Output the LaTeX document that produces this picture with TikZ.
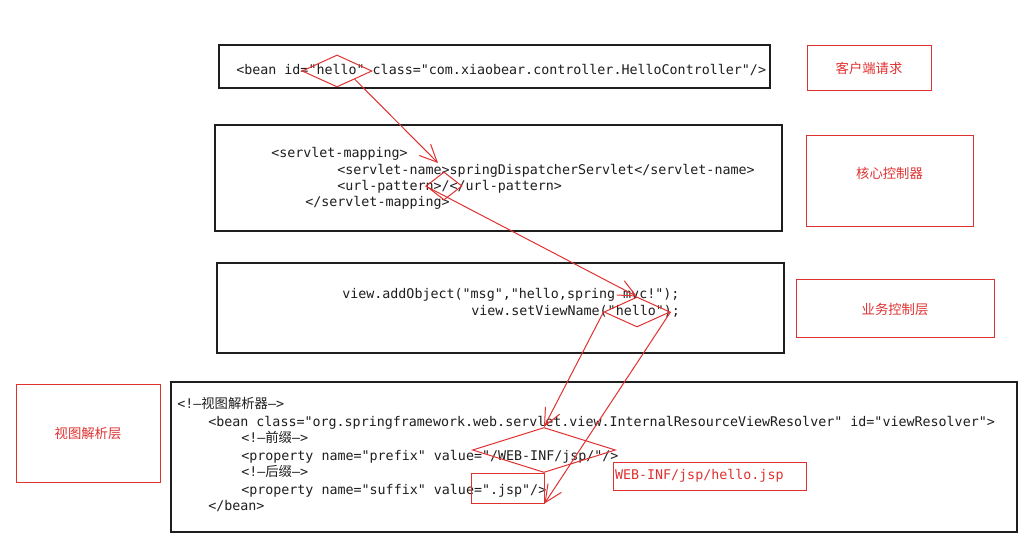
\documentclass[tikz,border=0pt]{standalone}
\usepackage{fontspec}
\setmonofont{DejaVu Sans Mono}
\newfontfamily\cjk{Noto Sans CJK SC}
\usepackage{xcolor}
\usetikzlibrary{shapes.geometric, arrows.meta}
\definecolor{rosso}{HTML}{E03131}
\definecolor{nero}{HTML}{1E1E1E}
\newcommand{\pxl}{0.75pt}

\begin{document}
\begin{tikzpicture}[x = 0.75pt, y = -0.75pt,
    riquadro/.style = {draw = nero, line width = 1pt, fill = white, inner sep = 0pt},
    riquadroRosso/.style = {draw = rosso, line width = 0.75pt, inner sep = 0pt, text = rosso, font = \cjk},
    rombo/.style = {draw = rosso, line width = 0.75pt, diamond, inner sep = 0pt},
    cornice/.style = {draw = rosso, line width = 0.75pt, rectangle, inner sep = 0pt},
    codice/.style = {anchor = base west, inner sep = 0pt, text = nero, font = \ttfamily},
    freccia/.style = {draw = rosso, line width = 0.75pt, -{Straight Barb[length = 13pt, width = 12pt]}}]
    % Sfondo
    \fill[white] (0,0) rectangle (1024,541);
    \useasboundingbox (0,0) rectangle (1024,541);
    % Riquadri del codice
    \node[riquadro, minimum width = 551*\pxl, minimum height = 43*\pxl] (boxBean) at (494.5,66.5) {};
    \node[riquadro, minimum width = 567*\pxl, minimum height = 106*\pxl] (boxServlet) at (498.5,178) {};
    \node[riquadro, minimum width = 567*\pxl, minimum height = 90*\pxl] (boxView) at (500.5,308) {};
    \node[riquadro, minimum width = 846*\pxl, minimum height = 150*\pxl] (boxResolver) at (594,457) {};
    % Testo
    \node[codice] (cBean) at (236,74.5) {<bean id="hello" class="com.xiaobear.controller.HelloController"/>};
    \node[codice] (cMap) at (271,157.5) {<servlet-mapping>};
    \node[codice] (cName) at (337,174.5) {<servlet-name>springDispatcherServlet</servlet-name>};
    \node[codice] (cUrl) at (337,190.5) {<url-pattern>/</url-pattern>};
    \node[codice] (cMapEnd) at (305,206.5) {</servlet-mapping>};
    \node[codice] (cAdd) at (342,298.5) {view.addObject("msg","hello,spring mvc!");};
    \node[codice] (cSet) at (471,315.5) {view.setViewName("hello");};
    \node[codice] (cCom1) at (177,408.5) {<!—{\cjk 视图解析器}—>};
    \node[codice] (cRes) at (208,426.5) {<bean class="org.springframework.web.servlet.view.InternalResourceViewResolver" id="viewResolver">};
    \node[codice] (cCom2) at (241,442.5) {<!—{\cjk 前缀}—>};
    \node[codice] (cPre) at (241,460.5) {<property name="prefix" value="/WEB-INF/jsp/"/>};
    \node[codice] (cCom3) at (241,476.5) {<!—{\cjk 后缀}—>};
    \node[codice] (cSuf) at (241,494.5) {<property name="suffix" value=".jsp"/>};
    \node[codice] (cEnd) at (208,510.5) {</bean>};
    % Etichette
    \node[riquadroRosso, minimum width = 124*\pxl, minimum height = 45*\pxl] (lClient) at (869,68.5) {客户端请求};
    \node[riquadroRosso, minimum width = 167*\pxl, minimum height = 91*\pxl,
        label = {[text = rosso, font = \cjk, yshift = 8*\pxl]center:核心控制器}] (lCore) at (889.5,181.5) {};
    \node[riquadroRosso, minimum width = 198*\pxl, minimum height = 58*\pxl] (lBiz) at (895,309) {业务控制层};
    \node[riquadroRosso, minimum width = 144*\pxl, minimum height = 97*\pxl] (lView) at (88,433.5) {视图解析层};
    \node[riquadroRosso, font = \ttfamily, minimum height = 28*\pxl, text width = 189*\pxl,
        inner xsep = 2*\pxl, align = left] (lPath) at (709.5,476) {WEB-INF/jsp/hello.jsp};
    % Evidenziazioni
    \node[rombo, minimum width = 70*\pxl, minimum height = 32*\pxl] (dHello) at (337,71) {};
    \node[rombo, minimum width = 36*\pxl, minimum height = 28*\pxl] (dSlash) at (444,186) {};
    \node[rombo, minimum width = 66*\pxl, minimum height = 30*\pxl] (dView) at (637,312) {};
    \node[rombo, minimum width = 143*\pxl, minimum height = 45*\pxl] (dPrefix) at (544,450) {};
    \node[cornice, minimum width = 73*\pxl, minimum height = 30*\pxl] (jspBox) at (507.5,488) {};
    % Frecce
    \coordinate (puntaServlet) at (438,163);
    \draw[freccia] (dHello.south east) -- (puntaServlet);
    \draw[freccia] (dSlash.west) -- (dView.north);
    \draw[freccia] (dView.west) -- (dPrefix.north);
    \draw[freccia] (dView.east) -- (jspBox.south east);
\end{tikzpicture}
\end{document}
